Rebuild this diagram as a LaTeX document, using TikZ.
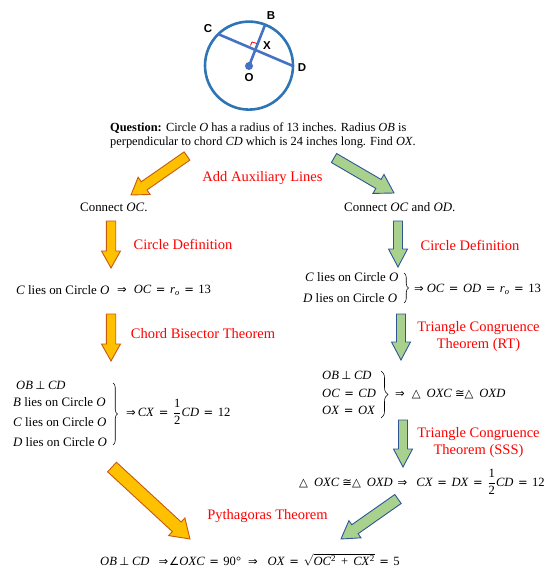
\documentclass[tikz,border=0pt]{standalone}
\usepackage{fontspec}
\setmainfont{Liberation Serif}
\newfontfamily\symf{DejaVu Sans}
\newfontfamily\labf{Liberation Sans}
\definecolor{oline}{HTML}{C55A11}
\definecolor{ofill}{HTML}{FFC000}
\definecolor{gline}{HTML}{2F5597}
\definecolor{gfill}{HTML}{A9D18E}
\definecolor{circ}{HTML}{2E75B6}
\definecolor{chord}{HTML}{4472C4}
\usetikzlibrary{decorations.pathreplacing}
\tikzset{
 x=1pt,y=-1pt,
 qtext/.style={font=\fontsize{12.4}{14}\selectfont,inner sep=0pt,anchor=west,text=black},
 txt/.style={font=\fontsize{12.9}{15}\selectfont,inner sep=0pt,anchor=west,text=black},
 eq/.style={font=\fontsize{12.6}{14}\selectfont,inner sep=0pt,anchor=west,text=black},
 rule/.style={font=\fontsize{14.5}{17}\selectfont,inner sep=0pt,text=red,align=center,anchor=center},
 lab/.style={font=\labf\bfseries\fontsize{11.5}{13}\selectfont,inner sep=0pt},
 orangeblock/.style={draw=oline,fill=ofill,line width=0.9pt,line join=miter},
 greenblock/.style={draw=gline,fill=gfill,line width=0.9pt,line join=miter},
 bracebar/.style={decorate,decoration={brace,amplitude=#1},line width=0.55pt},
 bracebar/.default=4.5pt,
}
\newcommand{\iv}[1]{\textit{#1}}
\newcommand{\sy}[1]{{\symf\fontsize{11.5}{12}\selectfont #1}}
\newcommand{\Eq}{\hspace{4.5pt}\sy{=}\hspace{4.5pt}}
\newcommand{\Perp}{\hspace{2.5pt}\sy{⊥}\hspace{2.5pt}}
\newcommand{\Cong}{\hspace{3pt}\sy{≅}}
\newcommand{\subo}{$_{\mbox{\fontsize{8.5}{9}\selectfont\iv{o}}}$}
\newcommand{\supt}{$^{\mbox{\fontsize{9}{9}\selectfont 2}}$}
\newcommand{\halffrac}{$\displaystyle\frac{\mbox{\fontsize{12.6}{12}\selectfont 1}}{\mbox{\fontsize{12.6}{12}\selectfont 2}}$}
% style, tail x,y, tip x,y, half shaft, half head, head length
\newcommand{\blockarrow}[8]{%
 \pgfmathsetmacro\bl{veclen(#4-#2,#5-#3)}%
 \pgfmathsetmacro\ba{atan2(#3-#5,#4-#2)}%
 \begin{scope}[shift={(#2,#3)},rotate=\ba,y=1pt]
 \draw[#1] (0,-#6) -- ({\bl-#8},-#6) -- ({\bl-#8},-#7) -- (\bl,0) -- ({\bl-#8},#7) -- ({\bl-#8},#6) -- (0,#6) -- cycle;
 \end{scope}}
\begin{document}
\begin{tikzpicture}
\useasboundingbox (0,0) rectangle (554,568);
% figure
\draw[circ,line width=2.6pt] (249,65.6) circle (44);
\draw[chord,line width=2.6pt] (218,34) -- (293,66);
\draw[chord,line width=2.6pt] (249,66) -- (265,25);
\fill[chord] (249,66) circle (4);
\draw[red,line width=0.8pt] (250.5,45.5) -- (252,42) -- (257,43.5);
\node[lab] (C) at (208,29) {C};
\node[lab] (B) at (271,16) {B};
\node[lab] (X) at (267,46) {X};
\node[lab] (O) at (249,78) {O};
\node[lab] (D) at (302,68) {D};
% question
\node[qtext] (q1) at (110,128) {\textbf{Question:} Circle \iv{O} has a radius of 13 inches. Radius \iv{OB} is};
\node[qtext] (q2) at (110,143) {perpendicular to chord \iv{CD} which is 24 inches long. Find \iv{OX}.};
% rule labels
\node[rule] (r1) at (262.5,178) {Add Auxiliary Lines};
\node[rule] (r2) at (183,244) {Circle Definition};
\node[rule] (r3) at (470,245) {Circle Definition};
\node[rule] (r4) at (203,334) {Chord Bisector Theorem};
\node[rule] (r5) at (478.5,337) {Triangle Congruence\\Theorem (RT)};
\node[rule] (r6) at (478.5,443) {Triangle Congruence\\Theorem (SSS)};
\node[rule] (r7) at (267.5,516) {Pythagoras Theorem};
% left column
\node[txt] (l1) at (80,207.5) {Connect \iv{OC}.};
\node[txt] (l2) at (16,290) {\iv{C} lies on Circle \iv{O}};
\node[eq] (l2e) at (117,290) {\sy{⇒}\hspace{7pt}\iv{OC}\Eq\iv{r}\subo\Eq 13};
\node[eq] (l3a) at (16,385) {\iv{OB}\Perp\iv{CD}};
\node[txt] (l3b) at (13,402) {\iv{B} lies on Circle \iv{O}};
\node[txt] (l3c) at (13,422) {\iv{C} lies on Circle \iv{O}};
\node[txt] (l3d) at (13,442) {\iv{D} lies on Circle \iv{O}};
\coordinate (lbt) at (113,383);
\coordinate (lbb) at (113,445);
\draw[bracebar] (lbt) -- (lbb);
\node[eq] (l3e) at (126,412) {\sy{⇒}\hspace{2pt}\iv{CX}\Eq\halffrac\iv{CD}\Eq 12};
% right column
\node[txt] (g1) at (344,207.5) {Connect \iv{OC} and \iv{OD}.};
\node[txt] (g2a) at (305,277) {\iv{C} lies on Circle \iv{O}};
\node[txt] (g2b) at (303,298) {\iv{D} lies on Circle \iv{O}};
\coordinate (gbt) at (404,273);
\coordinate (gbb) at (404,303);
\draw[bracebar] (gbt) -- (gbb);
\node[eq] (g2c) at (414,289) {\sy{⇒}\hspace{3pt}\iv{OC}\Eq\iv{OD}\Eq\iv{r}\subo\Eq 13};
\node[eq] (g3a) at (322,375) {\iv{OB}\Perp\iv{CD}};
\node[eq] (g3b) at (322,393) {\iv{OC}\Eq\iv{CD}};
\node[eq] (g3c) at (322,410) {\iv{OX}\Eq\iv{OX}};
\coordinate (hbt) at (381,371);
\coordinate (hbb) at (381,418);
\draw[bracebar=7pt] (hbt) -- (hbb);
\node[eq] (g3d) at (395,394) {\sy{⇒}\hspace{7pt}\sy{△}\hspace{6pt}\iv{OXC}\Cong\sy{△}\hspace{6pt}\iv{OXD}};
\node[eq] (g4) at (299,482) {\sy{△}\hspace{6pt}\iv{OXC}\Cong\sy{△}\hspace{6pt}\iv{OXD}\hspace{5pt}\sy{⇒}\hspace{9pt}\iv{CX}\Eq\iv{DX}\Eq\halffrac\iv{CD}\Eq 12};
% bottom
\node[eq] (b) at (100,560) {\iv{OB}\Perp\iv{CD}\hspace{9pt}\sy{⇒}\hspace{1pt}\sy{∠}\iv{OXC}\Eq 90°\hspace{7pt}\sy{⇒}\hspace{10pt}\iv{OX}\Eq$\sqrt{\mbox{\fontsize{12.6}{14}\selectfont\iv{OC}\supt\hspace{5pt}+\hspace{5pt}\iv{CX}\supt}}$\Eq 5};
% block arrows
\blockarrow{orangeblock}{187}{156}{131}{195}{5}{10.5}{16}
\blockarrow{greenblock}{334}{158}{394}{193}{5.2}{11}{18}
\blockarrow{orangeblock}{111}{221}{111}{268}{4.7}{9.5}{17}
\blockarrow{greenblock}{398}{221}{398}{267}{4.5}{9.5}{18}
\blockarrow{orangeblock}{111}{314}{111}{361}{4.7}{9.5}{17}
\blockarrow{greenblock}{401}{314}{401}{360}{4.5}{9.5}{18}
\blockarrow{greenblock}{403}{420}{403}{467}{4.5}{9.5}{18}
\blockarrow{greenblock}{398}{499}{341}{539}{5.5}{10.5}{17}
\blockarrow{orangeblock}{112}{467}{190}{539}{6.5}{12}{18}
\end{tikzpicture}
\end{document}
